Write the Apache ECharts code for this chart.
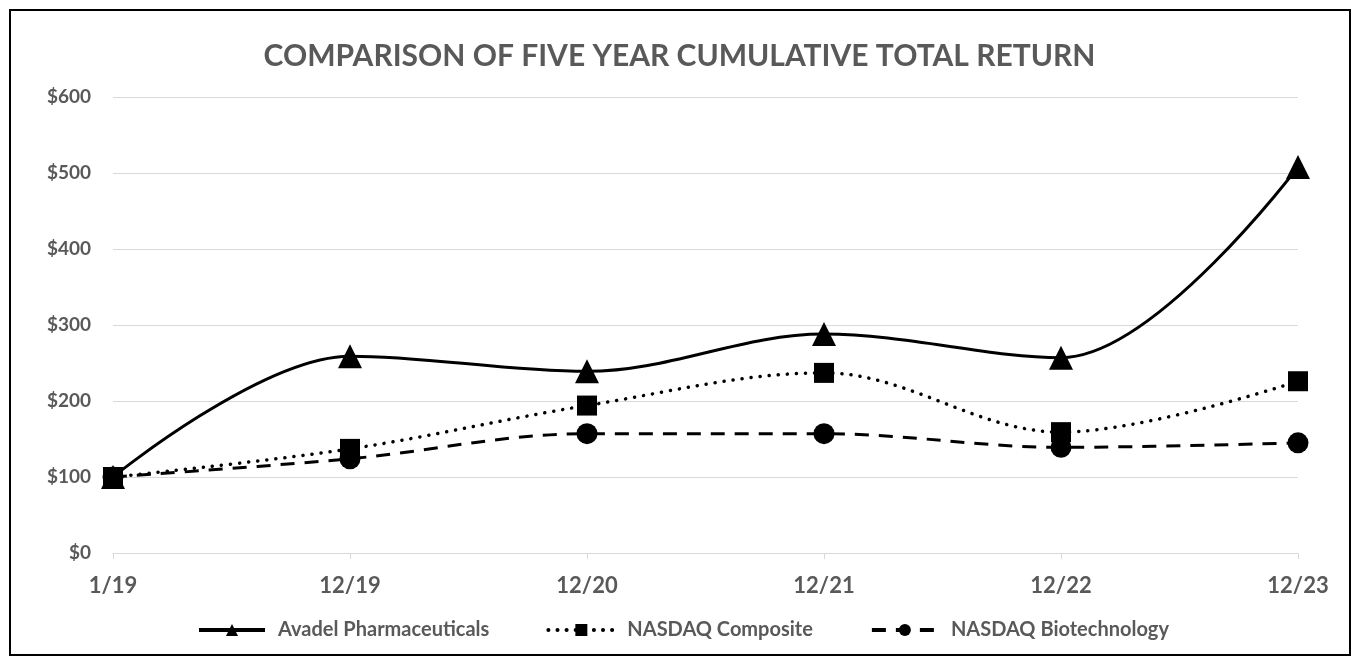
<!DOCTYPE html>
<html>
<head>
<meta charset="utf-8">
<script src="https://cdn.jsdelivr.net/npm/echarts@6/dist/echarts.min.js"></script>
<style>
    html, body {
        margin: 0;
        padding: 0;
        background: #fff;
    }
    .frame {
        position: absolute;
        left: 9px;
        top: 9px;
        width: 1338px;
        height: 643px;
        border: 2px solid #000;
    }
    #chart {
        position: absolute;
        left: 0;
        top: 0;
        width: 1359px;
        height: 664px;
    }
</style>
</head>
<body>
<div class="frame"></div>
<div id="chart"></div>
<script>
    const categories = ['1/19', '12/19', '12/20', '12/21', '12/22', '12/23']
    const avadel = [100, 259, 239, 288, 257, 508]
    const nasdaqComposite = [100, 137, 194, 237, 159, 226]
    const nasdaqBiotech = [100, 124, 157, 157, 139, 145]
    const yTicks = [0, 100, 200, 300, 400, 500, 600]

    const font = 'Lato'
    const grey = '#595959'

    const myChart = echarts.init(document.getElementById('chart'))

    const option = {
        backgroundColor: 'transparent',
        animation: false,
        title: {
            text: 'COMPARISON OF FIVE YEAR CUMULATIVE TOTAL RETURN',
            left: 'center',
            top: 36,
            textStyle: {
                color: grey,
                fontFamily: font,
                fontWeight: 'bold',
                fontSize: 30
            }
        },
        grid: {
            left: 113,
            right: 61,
            top: 97,
            bottom: 111
        },
        legend: {
            bottom: 19,
            left: 192,
            itemWidth: 66,
            itemHeight: 15,
            itemGap: 57,
            lineStyle: { width: 4 },
            textStyle: {
                color: grey,
                fontFamily: font,
                fontWeight: 'bold',
                fontSize: 20,
                padding: [0, 0, 0, 8]
            }
        },
        xAxis: {
            type: 'category',
            data: categories,
            boundaryGap: false,
            axisLine: { lineStyle: { color: '#d9d9d9', width: 1 } },
            axisTick: { show: true, length: 6, lineStyle: { color: '#d9d9d9' } },
            axisLabel: {
                color: grey,
                fontFamily: font,
                fontWeight: 'bold',
                fontSize: 22,
                margin: 22
            }
        },
        yAxis: {
            type: 'value',
            min: yTicks[0],
            max: yTicks[yTicks.length - 1],
            interval: 100,
            axisLine: { show: false },
            axisTick: { show: false },
            splitLine: { lineStyle: { color: '#d9d9d9', width: 1 } },
            axisLabel: {
                color: grey,
                fontFamily: font,
                fontWeight: 'bold',
                fontSize: 19,
                margin: 22,
                formatter: v => '$' + v
            }
        },
        series: [
            {
                name: 'Avadel Pharmaceuticals',
                type: 'line',
                data: avadel,
                smooth: 0.35,
                symbol: 'triangle',
                symbolSize: 24,
                itemStyle: { color: '#000' },
                lineStyle: { color: '#000', width: 3 },
                z: 3
            },
            {
                name: 'NASDAQ Composite',
                type: 'line',
                data: nasdaqComposite,
                smooth: 0.35,
                symbol: 'rect',
                symbolSize: 20,
                itemStyle: { color: '#000' },
                lineStyle: { color: '#000', width: 3.5, type: [0.1, 9], cap: 'round' },
                z: 2
            },
            {
                name: 'NASDAQ Biotechnology',
                type: 'line',
                data: nasdaqBiotech,
                smooth: 0.35,
                symbol: 'circle',
                symbolSize: 21,
                itemStyle: { color: '#000' },
                lineStyle: { color: '#000', width: 3, type: [14, 10] },
                z: 1
            }
        ]
    }
    myChart.setOption(option)
</script>
</body>
</html>
